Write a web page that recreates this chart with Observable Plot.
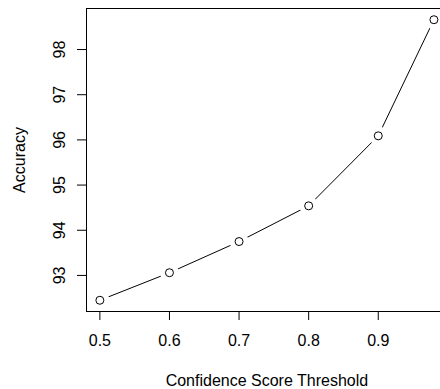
<!DOCTYPE html>
<html>
<head>
<meta charset="utf-8">
<script src="https://cdn.jsdelivr.net/npm/d3@7"></script>
<script src="https://cdn.jsdelivr.net/npm/@observablehq/plot@0.6"></script>
<style>
  html, body { margin: 0; padding: 0; background: #fff; }
  #wrap { width: 440px; height: 389px; overflow: hidden; }
  #wrap svg { max-width: none !important; height: 389px !important; display: block; }
</style>
</head>
<body>
<div id="wrap"></div>
<script>
const thresholds = [0.5, 0.6, 0.7, 0.8, 0.9, 0.98];
const accuracy = [92.45, 93.06, 93.75, 94.54, 96.09, 98.66];
const xTicks = [0.5, 0.6, 0.7, 0.8, 0.9];
const yTicks = [93, 94, 95, 96, 97, 98];
const xLabel = "Confidence Score Threshold";
const yLabel = "Accuracy";

const data = thresholds.map((t, i) => ({t, a: accuracy[i]}));

// R-style 4% axis padding
const xe = d3.extent(thresholds), ye = d3.extent(accuracy);
const xp = (xe[1] - xe[0]) * 0.04, yp = (ye[1] - ye[0]) * 0.04;

const font = "'Liberation Sans', Arial, Helvetica, sans-serif";

const chart = Plot.plot({
  width: 460,
  height: 389,
  marginLeft: 86,
  marginRight: 13.2,
  marginTop: 8,
  marginBottom: 78,
  style: {fontFamily: font, fontSize: "16px", color: "#000", background: "#fff", maxWidth: "none"},
  x: {domain: [xe[0] - xp, xe[1] + xp]},
  y: {domain: [ye[0] - yp, ye[1] + yp]},
  marks: [
    Plot.axisX(xTicks, {tickSize: 9, tickPadding: 14.5, fontSize: 16, label: null, tickFormat: d => d.toFixed(1)}),
    Plot.axisY(yTicks, {tickSize: 9, label: null, tickFormat: () => ""}),
    Plot.text(yTicks, {y: d => d, text: d => String(d), frameAnchor: "left", dx: -21.5, rotate: -90, lineAnchor: "bottom", textAnchor: "middle", fontSize: 16, fill: "#000"}),
    Plot.text([yLabel], {text: d => d, frameAnchor: "left", dx: -61.5, rotate: -90, lineAnchor: "bottom", textAnchor: "middle", fontSize: 16, fill: "#000"}),
    Plot.text([xLabel], {text: d => d, frameAnchor: "bottom", dy: 74, lineAnchor: "bottom", textAnchor: "middle", fontSize: 16, fill: "#000"}),
    Plot.line(data, {x: "t", y: "a", stroke: "#000", strokeWidth: 1}),
    Plot.dot(data, {x: "t", y: "a", r: 9.5, fill: "#fff", stroke: "none"}),
    Plot.dot(data, {x: "t", y: "a", r: 4, fill: "none", stroke: "#000", strokeWidth: 1}),
    Plot.frame({stroke: "#000", strokeWidth: 1})
  ]
});
chart.style.maxWidth = "none";
document.getElementById("wrap").appendChild(chart);
</script>
</body>
</html>
